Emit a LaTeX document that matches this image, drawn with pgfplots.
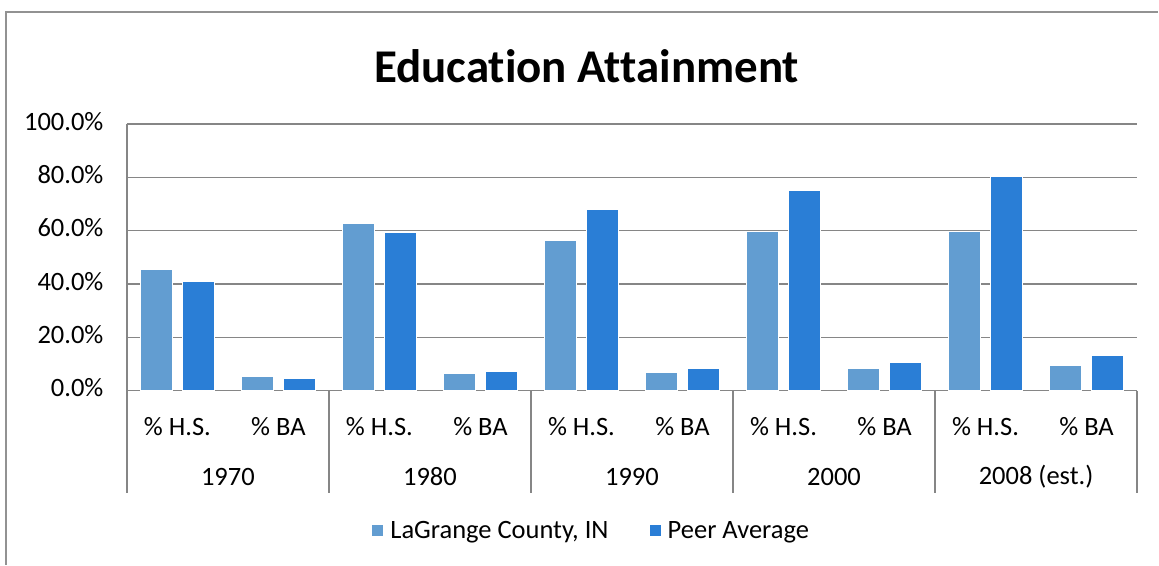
\documentclass[border=0pt]{standalone}
\usepackage{pgfplots}
\pgfplotsset{compat=1.18}
\usepackage{fontspec}
\setmainfont{Carlito}[Ligatures=NoCommon]
\definecolor{cA}{RGB}{98,157,209}
\definecolor{cB}{RGB}{42,126,214}
\definecolor{gridc}{RGB}{134,134,134}
\begin{document}
\begin{tikzpicture}
\path (-127pt,-174pt) rectangle (1032pt,391pt);
\draw[gridc!90, line width=2pt] (-121pt,-174pt) -- (-121pt,379pt) -- (1032pt,379pt);
\begin{axis}[
  scale only axis, width=1011pt, height=267pt,
  at={(0,0)}, anchor=south west,
  xmin=-0.5, xmax=9.5, ymin=0, ymax=100,
  ybar=10pt, bar width=32pt,
  clip=false,
  xtick={0,...,9},
  xticklabels={\% H.S., \% BA, \% H.S., \% BA, \% H.S., \% BA, \% H.S., \% BA, \% H.S., \% BA},
  xticklabel style={anchor=center, yshift=-34pt, font=\fontsize{26.5}{31}\selectfont},
  typeset ticklabels with strut,
  major x tick style={draw=none},
  ytick={0,20,...,100},
  yticklabels={0.0\%,20.0\%,40.0\%,60.0\%,80.0\%,100.0\%},
  yticklabel style={font=\fontsize{26.5}{31}\selectfont, xshift=-20pt},
  major y tick style={draw=none},
  ymajorgrids, grid style={gridc, line width=1.3pt},
  axis x line*=bottom, axis y line*=left,
  axis line style={gridc, line width=1.3pt, -},
  legend columns=2,
  legend style={at={(0.4595,-0.524)}, anchor=center, draw=none, fill=none,
    font=\fontsize{26.5}{31}\selectfont,
    /tikz/every odd column/.append style={column sep=4pt},
    /tikz/every even column/.append style={column sep=38pt}},
  legend image code/.code={\fill[#1] (0pt,-6pt) rectangle (12pt,6pt);},
]
\addplot[fill=cA, draw=white, line width=1.2pt] coordinates {
  (0,45.3) (1,5.2) (2,62.7) (3,6.6) (4,56.3) (5,6.7) (6,59.8) (7,8.4) (8,59.6) (9,9.4)};
\addlegendentry{LaGrange County, IN}
\addplot[fill=cB, draw=white, line width=1.2pt] coordinates {
  (0,41.1) (1,4.5) (2,59.4) (3,7.4) (4,67.9) (5,8.5) (6,75.0) (7,10.7) (8,80.4) (9,13.1)};
\addlegendentry{Peer Average}
\draw[gridc, line width=1.3pt] (axis cs:-0.5,0) -- ++(0pt,-102pt);
\draw[gridc, line width=1.3pt] (axis cs:1.5,0) -- ++(0pt,-102pt);
\draw[gridc, line width=1.3pt] (axis cs:3.5,0) -- ++(0pt,-102pt);
\draw[gridc, line width=1.3pt] (axis cs:5.5,0) -- ++(0pt,-102pt);
\draw[gridc, line width=1.3pt] (axis cs:7.5,0) -- ++(0pt,-102pt);
\draw[gridc, line width=1.3pt] (axis cs:9.5,0) -- ++(0pt,-102pt);
\node[font=\fontsize{26.5}{31}\selectfont] at ([yshift=-86pt]axis cs:0.5,0) {1970};
\node[font=\fontsize{26.5}{31}\selectfont] at ([yshift=-86pt]axis cs:2.5,0) {1980};
\node[font=\fontsize{26.5}{31}\selectfont] at ([yshift=-86pt]axis cs:4.5,0) {1990};
\node[font=\fontsize{26.5}{31}\selectfont] at ([yshift=-86pt]axis cs:6.5,0) {2000};
\node[font=\fontsize{26.5}{31}\selectfont] at ([yshift=-86pt]axis cs:8.5,0) {2008 (est.)};
\node[font=\fontsize{47}{56}\selectfont\bfseries] at (rel axis cs:0.455,1.218) {Education Attainment};
\end{axis}
\end{tikzpicture}
\end{document}
